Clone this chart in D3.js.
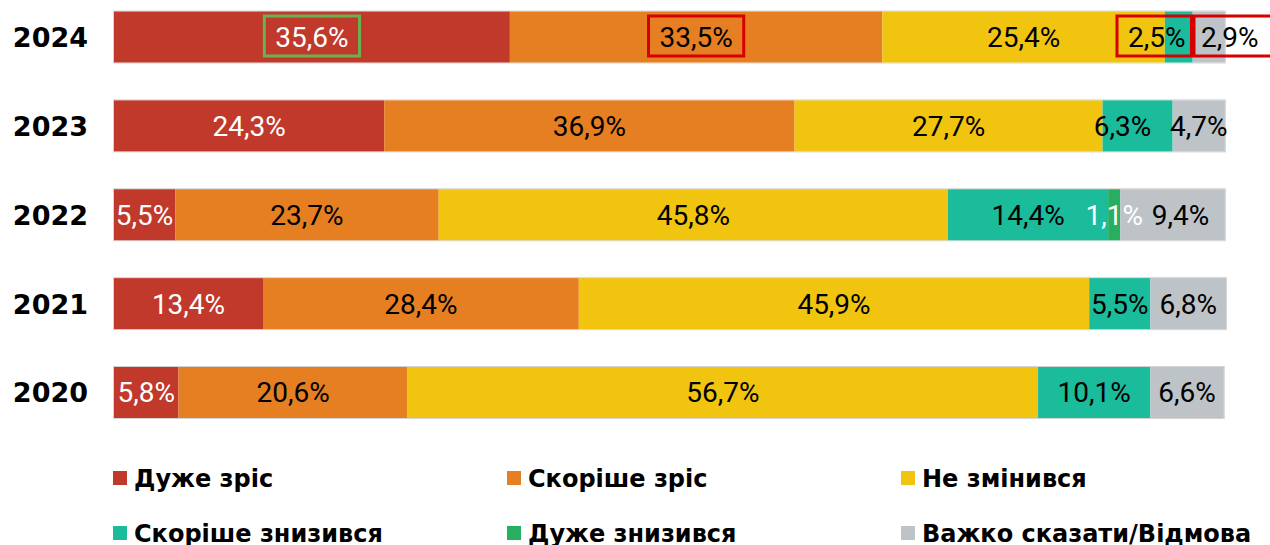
<!DOCTYPE html>
<html><head><meta charset="utf-8">
<script src="https://cdn.jsdelivr.net/npm/d3@7"></script>
<style>html,body{margin:0;padding:0;background:#fff;}svg{display:block;}</style>
</head><body>
<svg id="chart" width="1270" height="545"></svg>
<script>
const years = ["2024", "2023", "2022", "2021", "2020"];
const seriesNames = ["Дуже зріс", "Скоріше зріс", "Не змінився", "Скоріше знизився", "Дуже знизився", "Важко сказати/Відмова"];
const veryIncreased     = [35.6, 24.3, 5.5, 13.4, 5.8];
const ratherIncreased   = [33.5, 36.9, 23.7, 28.4, 20.6];
const unchanged         = [25.4, 27.7, 45.8, 45.9, 56.7];
const ratherDecreased   = [2.5, 6.3, 14.4, 5.5, 10.1];
const veryDecreased     = [0, 0, 1.1, 0, 0];
const hardToSay         = [2.9, 4.7, 9.4, 6.8, 6.6];
const seriesValues = [veryIncreased, ratherIncreased, unchanged, ratherDecreased, veryDecreased, hardToSay];

// styles
const colors = ["#C0392B", "#E67E22", "#F1C40F", "#1ABC9C", "#27AE60", "#BDC3C7"];
const labelColors = ["#fff", "#000", "#000", "#000", "#fff", "#000"];
// manual label nudges (px), keyed "year|seriesIndex"
const labelNudge = {"2024|3": -22, "2024|5": 21, "2023|3": -15, "2022|5": 8};
// highlighted labels
const highlights = [
  {year: "2024", s: 0, color: "#6AB150", padL: 11, padR: 11},
  {year: "2024", s: 1, color: "#D60000", padL: 11, padR: 11},
  {year: "2024", s: 3, color: "#D60000", padL: 11, padR: 6},
  {year: "2024", s: 5, color: "#D60000", padL: 7, padR: 30}
];

const svg = d3.select("#chart");
const x = d3.scaleLinear().domain([0, 100]).range([114, 1226]);
const y = d3.scaleBand().domain(years).range([11.5, 418]).paddingInner(0.426).paddingOuter(0);

const stackData = years.map((yr, i) => {
  const o = {year: yr};
  seriesNames.forEach((n, s) => o[s] = seriesValues[s][i]);
  return o;
});
const stack = d3.stack().keys(d3.range(seriesNames.length))(stackData);

const labelFont = "Roboto, 'Liberation Sans', sans-serif";
const boldFont = "'DejaVu Sans', Verdana, sans-serif";

// bar outline
svg.append("g").selectAll("rect").data(years).join("rect")
  .attr("x", x(0) - 0.5).attr("y", d => y(d) - 0.5)
  .attr("width", d => x(d3.sum(seriesValues, s => s[years.indexOf(d)])) - x(0) + 1)
  .attr("height", y.bandwidth() + 1)
  .attr("fill", "none").attr("stroke", "#d4d4d4").attr("stroke-width", 1);

const layers = svg.append("g").selectAll("g").data(stack).join("g")
  .attr("fill", (d, i) => colors[i]);
layers.selectAll("rect").data(d => d).join("rect")
  .attr("x", d => x(d[0]))
  .attr("y", d => y(d.data.year))
  .attr("width", d => Math.max(0, x(d[1]) - x(d[0])))
  .attr("height", y.bandwidth());

// value labels
const fs = 28;
const labelsG = svg.append("g");
const labelNodes = {};
stack.forEach((layer, s) => {
  layer.forEach(d => {
    const v = d[1] - d[0];
    if (v <= 0) return;
    const key = d.data.year + "|" + s;
    const cx = (x(d[0]) + x(d[1])) / 2 + (labelNudge[key] || 0);
    const cy = y(d.data.year) + y.bandwidth() / 2;
    const t = labelsG.append("text")
      .attr("x", cx).attr("y", cy + fs * 0.355)
      .attr("text-anchor", "middle")
      .attr("font-family", labelFont).attr("font-size", fs)
      .attr("fill", labelColors[s])
      .text(d3.format(".1f")(seriesValues[s][years.indexOf(d.data.year)]).replace(".", ",") + "%");
    labelNodes[key] = {node: t.node(), cy};
  });
});

// highlight boxes
highlights.forEach(h => {
  const ln = labelNodes[h.year + "|" + h.s];
  if (!ln) return;
  const bb = ln.node.getBBox();
  svg.append("rect")
    .attr("x", bb.x - h.padL).attr("y", ln.cy - 21)
    .attr("width", bb.width + h.padL + h.padR).attr("height", 40)
    .attr("fill", "none").attr("stroke", h.color).attr("stroke-width", 3);
});

// year axis labels
svg.append("g").selectAll("text").data(years).join("text")
  .attr("x", 88).attr("y", d => y(d) + y.bandwidth() / 2 + 10)
  .attr("text-anchor", "end")
  .attr("font-family", boldFont).attr("font-weight", "bold").attr("font-size", 27)
  .attr("fill", "#000").text(d => d);

// legend
const legCols = [113, 507, 901];
const legRows = [478, 533];
const leg = svg.append("g").selectAll("g").data(seriesNames).join("g")
  .attr("transform", (d, i) => `translate(${legCols[i % 3]},${legRows[Math.floor(i / 3)]})`);
leg.append("rect").attr("x", 0).attr("y", -7).attr("width", 14).attr("height", 14)
  .attr("fill", (d, i) => colors[i]);
leg.append("text").attr("x", 21).attr("y", 9)
  .attr("font-family", boldFont).attr("font-weight", "bold").attr("font-size", 24)
  .attr("fill", "#000").text(d => d);
</script>
</body></html>
